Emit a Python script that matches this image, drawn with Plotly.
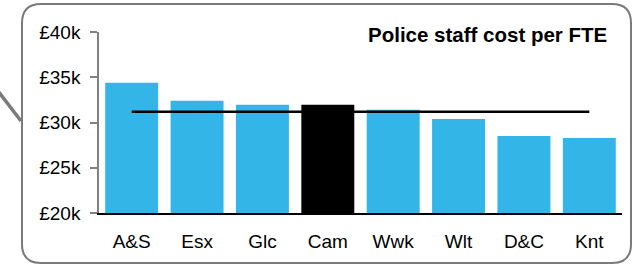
import plotly.graph_objects as go

categories = ["A&S", "Esx", "Glc", "Cam", "Wwk", "Wlt", "D&C", "Knt"]
cost_per_fte = [34400, 32400, 31950, 31950, 31400, 30400, 28500, 28300]
average_cost = 31200
highlight = "Cam"
y_ticks = [20000, 25000, 30000, 35000, 40000]
y_tick_labels = ["£20k", "£25k", "£30k", "£35k", "£40k"]
title_text = "Police staff cost per FTE"

W, H = 634, 265
L, R, T, B = 99, 12, 32, 52
PW, PH = W - L - R, H - T - B

def px(x):
    return (x - L) / PW

def py(y):
    return (H - B - y) / PH

blue = "#33B6E7"
colors = ["#000000" if c == highlight else blue for c in categories]

fig = go.Figure()
fig.add_trace(go.Bar(x=categories, y=cost_per_fte, marker=dict(color=colors, line=dict(width=0)),
                     width=0.81))
fig.add_trace(go.Scatter(x=categories, y=[average_cost] * len(categories), mode="lines",
                         line=dict(color="#000000", width=2.5)))

# rounded border (decoration)
x0, y0, x1, y1, r = 22, 4, 631, 263, 19
path = (f"M {px(x0 + r)},{py(y0)} L {px(x1 - r)},{py(y0)} "
        f"Q {px(x1)},{py(y0)} {px(x1)},{py(y0 + r)} "
        f"L {px(x1)},{py(y1 - r)} Q {px(x1)},{py(y1)} {px(x1 - r)},{py(y1)} "
        f"L {px(x0 + r)},{py(y1)} Q {px(x0)},{py(y1)} {px(x0)},{py(y1 - r)} "
        f"L {px(x0)},{py(y0 + r)} Q {px(x0)},{py(y0)} {px(x0 + r)},{py(y0)} Z")
fig.add_shape(type="path", path=path, xref="paper", yref="paper",
              line=dict(color="#7a7a7a", width=2), layer="below")
fig.add_shape(type="line", xref="paper", yref="paper",
              x0=px(-2), y0=py(91), x1=px(21), y1=py(121),
              line=dict(color="#7a7a7a", width=3.5))

fig.add_annotation(text=f"<b>{title_text}</b>", xref="paper", yref="paper",
                   x=px(609), y=py(21), xanchor="right", yanchor="top",
                   showarrow=False, font=dict(size=20.5, color="#000000"))

fig.update_layout(
    width=W, height=H,
    margin=dict(l=L, r=R, t=T, b=B, pad=0),
    paper_bgcolor="#ffffff", plot_bgcolor="#ffffff",
    showlegend=False, bargap=0.19,
    font=dict(family="Liberation Sans, Arial, sans-serif", size=19, color="#000000"),
)
fig.update_xaxes(showgrid=False, showline=True, linecolor="#000000", linewidth=1.5,
                 ticks="", ticklabelstandoff=10, zeroline=False)
fig.update_yaxes(range=[20000, 40000], tickvals=y_ticks, ticktext=y_tick_labels,
                 showgrid=False, showline=True, linecolor="#808080", linewidth=1.5,
                 ticks="outside", ticklen=7, tickcolor="#808080", tickwidth=1.5,
                 ticklabelstandoff=6, zeroline=False)

fig.write_html("out.html", config={"displayModeBar": False},
               post_script="document.body.style.margin='0px';")
